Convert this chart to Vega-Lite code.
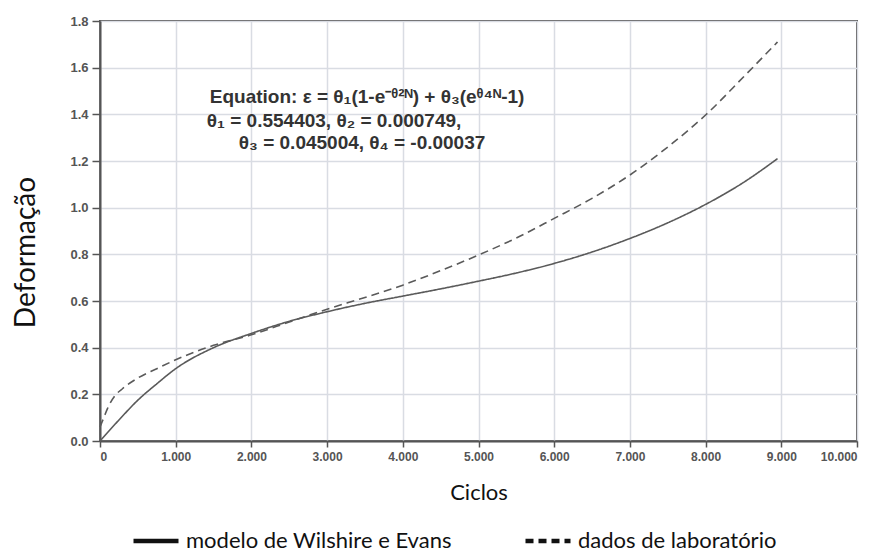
{
  "$schema": "https://vega.github.io/schema/vega-lite/v6.json",
  "width": 757,
  "height": 420,
  "autosize": {"type": "none"},
  "padding": {"left": 100, "top": 21, "right": 31, "bottom": 116},
  "background": "white",
  "config": {
    "view": {"stroke": "#555555", "strokeWidth": 2},
    "axis": {
      "gridColor": "#d9dce3",
      "gridWidth": 1.5,
      "domainColor": "#555555",
      "domainWidth": 2,
      "tickColor": "#555555",
      "tickWidth": 1.5,
      "labelFont": "Liberation Sans",
      "labelFontWeight": "bold",
      "labelColor": "#555555",
      "titleFont": "Lato",
      "titleFontWeight": "normal",
      "titleColor": "#111111"
    }
  },
  "layer": [
    {
      "data": {
        "values": [
          {"series": "modelo de Wilshire e Evans", "N": 0, "d": 0.0},
          {"series": "modelo de Wilshire e Evans", "N": 250, "d": 0.09},
          {"series": "modelo de Wilshire e Evans", "N": 500, "d": 0.175},
          {"series": "modelo de Wilshire e Evans", "N": 750, "d": 0.245},
          {"series": "modelo de Wilshire e Evans", "N": 1000, "d": 0.31},
          {"series": "modelo de Wilshire e Evans", "N": 1500, "d": 0.40},
          {"series": "modelo de Wilshire e Evans", "N": 2000, "d": 0.461},
          {"series": "modelo de Wilshire e Evans", "N": 2500, "d": 0.513},
          {"series": "modelo de Wilshire e Evans", "N": 3000, "d": 0.554},
          {"series": "modelo de Wilshire e Evans", "N": 3500, "d": 0.59},
          {"series": "modelo de Wilshire e Evans", "N": 4000, "d": 0.621},
          {"series": "modelo de Wilshire e Evans", "N": 4500, "d": 0.652},
          {"series": "modelo de Wilshire e Evans", "N": 5000, "d": 0.685},
          {"series": "modelo de Wilshire e Evans", "N": 5500, "d": 0.72},
          {"series": "modelo de Wilshire e Evans", "N": 6000, "d": 0.761},
          {"series": "modelo de Wilshire e Evans", "N": 6500, "d": 0.81},
          {"series": "modelo de Wilshire e Evans", "N": 7000, "d": 0.868},
          {"series": "modelo de Wilshire e Evans", "N": 7500, "d": 0.935},
          {"series": "modelo de Wilshire e Evans", "N": 8000, "d": 1.014},
          {"series": "modelo de Wilshire e Evans", "N": 8500, "d": 1.108},
          {"series": "modelo de Wilshire e Evans", "N": 8950, "d": 1.21},
          {"series": "dados de laboratório", "N": 0, "d": 0.06},
          {"series": "dados de laboratório", "N": 50, "d": 0.1},
          {"series": "dados de laboratório", "N": 100, "d": 0.14},
          {"series": "dados de laboratório", "N": 200, "d": 0.195},
          {"series": "dados de laboratório", "N": 300, "d": 0.225},
          {"series": "dados de laboratório", "N": 500, "d": 0.27},
          {"series": "dados de laboratório", "N": 750, "d": 0.31},
          {"series": "dados de laboratório", "N": 1000, "d": 0.348},
          {"series": "dados de laboratório", "N": 1500, "d": 0.41},
          {"series": "dados de laboratório", "N": 2000, "d": 0.455},
          {"series": "dados de laboratório", "N": 2500, "d": 0.51},
          {"series": "dados de laboratório", "N": 3000, "d": 0.565},
          {"series": "dados de laboratório", "N": 3500, "d": 0.615},
          {"series": "dados de laboratório", "N": 4000, "d": 0.668},
          {"series": "dados de laboratório", "N": 4500, "d": 0.73},
          {"series": "dados de laboratório", "N": 5000, "d": 0.797},
          {"series": "dados de laboratório", "N": 5500, "d": 0.87},
          {"series": "dados de laboratório", "N": 6000, "d": 0.954},
          {"series": "dados de laboratório", "N": 6500, "d": 1.04},
          {"series": "dados de laboratório", "N": 7000, "d": 1.14},
          {"series": "dados de laboratório", "N": 7500, "d": 1.26},
          {"series": "dados de laboratório", "N": 8000, "d": 1.397},
          {"series": "dados de laboratório", "N": 8500, "d": 1.56},
          {"series": "dados de laboratório", "N": 8950, "d": 1.71}
        ]
      },
      "mark": {"type": "line", "strokeWidth": 1.6, "color": "#5a5a5a", "interpolate": "monotone"},
      "encoding": {
        "x": {
          "field": "N", "type": "quantitative",
          "scale": {"domain": [0, 10000], "nice": false},
          "axis": {
            "title": "Ciclos",
            "titleFontSize": 22,
            "values": [0, 1000, 2000, 3000, 4000, 5000, 6000, 7000, 8000, 9000, 10000],
            "labelExpr": "replace(format(datum.value, ','), ',', '.')",
            "labelFontSize": 12,
            "labelPadding": 4,
            "tickSize": 6,
            "titlePadding": 20
          }
        },
        "y": {
          "field": "d", "type": "quantitative",
          "scale": {"domain": [0, 1.8], "nice": false},
          "axis": {
            "title": "Deformação",
            "titleFontSize": 28,
            "titleAngle": -90,
            "titleAlign": "center",
            "titleBaseline": "middle",
            "titleX": -74,
            "titleY": 231,
            "values": [0, 0.2, 0.4, 0.6, 0.8, 1.0, 1.2, 1.4, 1.6, 1.8],
            "format": ".1f",
            "labelFontSize": 13,
            "tickSize": 8,
            "labelPadding": 4
          }
        },
        "detail": {"field": "series"},
        "strokeDash": {
          "field": "series", "type": "nominal",
          "scale": {
            "domain": ["modelo de Wilshire e Evans", "dados de laboratório"],
            "range": [[1, 0], [8, 5]]
          },
          "legend": {
            "title": null,
            "orient": "none",
            "legendX": 31,
            "legendY": 495,
            "direction": "horizontal",
            "symbolType": "stroke",
            "symbolSize": 2025,
            "symbolStrokeWidth": 4.5,
            "symbolStrokeColor": "#111111",
            "labelFont": "Lato",
            "labelFontSize": 22,
            "labelColor": "#111111",
            "labelLimit": 400,
            "labelOffset": 5,
            "columnPadding": 64
          }
        }
      }
    },
    {
      "data": {
        "values": [
          {"text": "Equation: ε = θ₁(1-e⁻ᶿ²ᴺ) + θ₃(eᶿ⁴ᴺ-1)", "N": 3528, "d": 1.474},
          {"text": "θ₁ = 0.554403, θ₂ = 0.000749,", "N": 3092, "d": 1.371},
          {"text": "θ₃ = 0.045004, θ₄ = -0.00037", "N": 3462, "d": 1.277}
        ]
      },
      "mark": {"type": "text", "font": "Liberation Sans", "fontWeight": "bold", "fontSize": 19, "color": "#333333", "align": "center", "baseline": "middle"},
      "encoding": {
        "x": {"field": "N", "type": "quantitative"},
        "y": {"field": "d", "type": "quantitative"},
        "text": {"field": "text"}
      }
    }
  ]
}
